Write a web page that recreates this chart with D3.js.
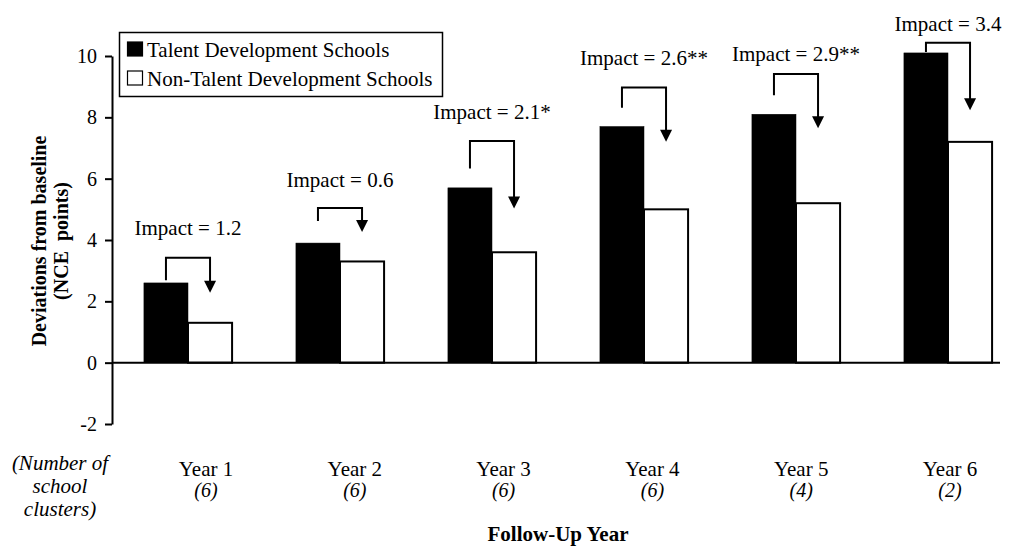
<!DOCTYPE html>
<html><head><meta charset="utf-8">
<script src="https://cdn.jsdelivr.net/npm/d3@7"></script>
<style>
body{margin:0;background:#fff;}
svg{display:block;font-family:"Liberation Serif","Times New Roman",serif;}
</style></head>
<body><svg id="c" width="1010" height="550"></svg>
<script>
const years = ["Year 1","Year 2","Year 3","Year 4","Year 5","Year 6"];
const clusters = ["(6)","(6)","(6)","(6)","(4)","(2)"];
const talent = [2.6, 3.9, 5.7, 7.7, 8.1, 10.1];
const nonTalent = [1.3, 3.3, 3.6, 5.0, 5.2, 7.2];
const impactLabels = ["Impact = 1.2","Impact = 0.6","Impact = 2.1*","Impact = 2.6**","Impact = 2.9**","Impact = 3.4"];
// annotation anchors in data units
const annBottom = [2.69, 4.62, 6.33, 8.31, 8.72, 10.13];
const annTop = [3.42, 5.04, 7.23, 8.97, 9.41, 10.43];
const annTip = [2.28, 4.26, 5.03, 7.20, 7.64, 8.23];
const annLabel = [4.16, 5.72, 7.96, 9.70, 9.83, 10.82];
const yTicks = [-2, 0, 2, 4, 6, 8, 10];
const seriesNames = ["Talent Development Schools","Non-Talent Development Schools"];

const svg = d3.select("#c");
const x = d3.scaleBand().domain(years).range([112, 1024]).paddingInner(0.42).paddingOuter(0.21);
const xs = d3.scaleBand().domain([0,1]).range([0, x.bandwidth()]);
const xl = d3.scalePoint().domain(years).range([206, 950]);
const y = d3.scaleLinear().domain([-2, 10]).range([424, 56]);

// bars
const g = svg.append("g");
years.forEach((yr, i) => {
  const vals = [talent[i], nonTalent[i]];
  vals.forEach((v, k) => {
    g.append("rect")
      .attr("x", x(yr) + xs(k))
      .attr("y", y(Math.max(0, v)))
      .attr("width", xs.bandwidth())
      .attr("height", Math.abs(y(v) - y(0)))
      .attr("fill", k ? "#fff" : "#000")
      .attr("stroke", "#000")
      .attr("stroke-width", k ? 2 : 0.5);
  });
});

// x axis line at zero
svg.append("line").attr("x1", 112).attr("x2", 1000).attr("y1", y(0)).attr("y2", y(0))
  .attr("stroke", "#000").attr("stroke-width", 2);

// y axis
const ya = svg.append("g").attr("transform", "translate(112,0)")
  .call(d3.axisLeft(y).tickValues(yTicks).tickFormat(d => String(d)).tickSize(7).tickPadding(8).tickSizeOuter(0));
ya.select(".domain").attr("stroke-width", 2);
ya.selectAll(".tick line").attr("stroke-width", 2);
ya.selectAll("text").attr("font-size", 20).attr("font-family", "Liberation Serif").attr("fill", "#000");

// y title
const yt = svg.append("text").attr("transform", "translate(46,241) rotate(-90)")
  .attr("text-anchor", "middle").attr("font-weight", "bold").attr("font-size", 20);
yt.append("tspan").attr("x", 0).attr("dy", 0).text("Deviations from baseline");
yt.append("tspan").attr("x", 0).attr("dy", 22).text("(NCE\u00a0 points)");

// annotations
years.forEach((yr, i) => {
  const lx = x(yr) + xs(0) + xs.bandwidth() / 2;
  const rx = x(yr) + xs(1) + xs.bandwidth() / 2;
  const tipY = y(annTip[i]);
  svg.append("path")
    .attr("d", `M${lx},${y(annBottom[i])}V${y(annTop[i])}H${rx}V${tipY - 11}`)
    .attr("fill", "none").attr("stroke", "#000").attr("stroke-width", 2);
  svg.append("path")
    .attr("d", `M${rx - 6},${tipY - 12}L${rx + 6},${tipY - 12}L${rx},${tipY}Z`)
    .attr("fill", "#000");
  svg.append("text").attr("x", x(yr) + x.bandwidth() / 2).attr("y", y(annLabel[i]))
    .attr("text-anchor", "middle").attr("font-size", 21).text(impactLabels[i]);
});

// x labels
years.forEach((yr, i) => {
  svg.append("text").attr("x", xl(yr)).attr("y", 476).attr("text-anchor", "middle")
    .attr("font-size", 21).text(yr);
  svg.append("text").attr("x", xl(yr)).attr("y", 497).attr("text-anchor", "middle")
    .attr("font-size", 20).attr("font-style", "italic").text(clusters[i]);
});

// left note
const note = ["(Number of", "school", "clusters)"];
note.forEach((t, i) => {
  svg.append("text").attr("x", 60).attr("y", 470 + i * 23).attr("text-anchor", "middle")
    .attr("font-size", 21).attr("font-style", "italic").text(t);
});

// x title
svg.append("text").attr("x", 558).attr("y", 541).attr("text-anchor", "middle")
  .attr("font-weight", "bold").attr("font-size", 21).text("Follow-Up Year");

// legend
svg.append("rect").attr("x", 119.5).attr("y", 32.5).attr("width", 323).attr("height", 64)
  .attr("fill", "#fff").attr("stroke", "#000").attr("stroke-width", 1.5);
seriesNames.forEach((n, k) => {
  svg.append("rect").attr("x", 127.5).attr("y", 42 + k * 29).attr("width", 15).attr("height", 14)
    .attr("fill", k ? "#fff" : "#000").attr("stroke", "#000").attr("stroke-width", 1.2);
  svg.append("text").attr("x", 147).attr("y", 57 + k * 29).attr("font-size", 21).text(n);
});
</script></body></html>
